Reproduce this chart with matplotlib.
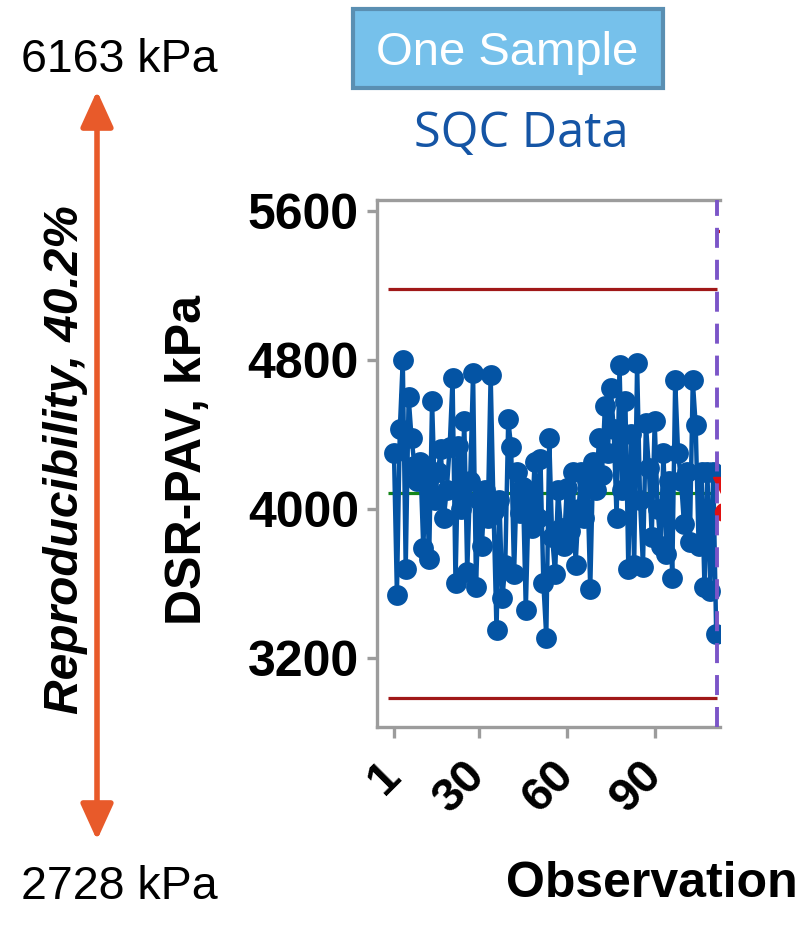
import matplotlib
matplotlib.use("Agg")
import matplotlib.pyplot as plt
from matplotlib.patches import FancyArrowPatch, Rectangle

# ---- data ----
observations = list(range(1, 112))
dsr_values = [
    4300, 3540, 4430, 4800, 3680, 4600, 4380, 4230, 4150, 4250,
    3790, 4200, 3730, 4580, 4050, 4200, 4320, 3950, 4100, 4330,
    4700, 3600, 4340, 4000, 4470, 3660, 4150, 4730, 3580, 4050,
    3800, 4100, 3950, 4720, 3990, 3350, 4050, 3520, 3700, 4480,
    4330, 3650, 4200, 3980, 4120, 3460, 4050, 3900, 4250, 3950,
    4270, 3600, 3310, 4380, 3850, 3650, 4100, 3900, 3800, 4110,
    3880, 4200, 3700, 4000, 4200, 3950, 4150, 3570, 4250, 4100,
    4380, 4180, 4550, 4300, 4650, 4430, 3950, 4770, 4100, 4580,
    3680, 4400, 3700, 4780, 4050, 3690, 4460, 4220, 3850, 4470,
    4000, 3800, 4300, 3760, 4150, 3630, 4690, 4300, 4150, 3920,
    4200, 3820, 4690, 4450, 3800, 4200, 3580, 4200, 3560, 4200,
    3330,
]
center_line = 4084
ucl = 5180
lcl = 2984
next_ucl = 5491
phase_break = 111.3
next_phase_obs = [113.8, 113.8]
next_phase_vals = [4110, 3985]

y_ticks = [3200, 4000, 4800, 5600]
x_ticks = [1, 30, 60, 90]

W, H = 808, 933
fig = plt.figure(figsize=(W / 100, H / 100), dpi=100)

def fx(px):
    return px / W

def fy(py):
    return 1 - py / H

ax = fig.add_axes([fx(377), fy(727), fx(720) - fx(377), fy(200) - fy(727)])
ax.set_xlim(-4.8, 112.3)
ax.set_ylim(2830, 5657)

blue = "#0454A4"
ax.hlines([ucl, lcl], -1, phase_break, colors="#A01818", lw=2.3, zorder=2)
ax.hlines([center_line], -1, phase_break, colors="#15861A", lw=2.3, zorder=2)
ax.hlines([next_ucl], phase_break, 130, colors="#C01818", lw=2.3, zorder=2)
ax.plot(observations, dsr_values, color=blue, lw=3.2, marker="o",
        markersize=15, markeredgewidth=0, zorder=3)
ax.plot(next_phase_obs[:1], next_phase_vals[:1], marker="v", color="#E01010",
        markersize=16, ls="none", zorder=4)
ax.plot(next_phase_obs[1:], next_phase_vals[1:], marker="o", color="#E01010",
        markersize=13, ls="none", zorder=4)
lw_p = 2.8
ax.axvline(phase_break, color="#7B55C8", lw=lw_p, ls=(0, (14.4 / lw_p, 8.6 / lw_p)),
           zorder=5, clip_on=False)

for s in ["left", "top", "bottom"]:
    ax.spines[s].set_color("#9C9C9C")
    ax.spines[s].set_linewidth(2.4)
ax.spines["right"].set_visible(False)

ax.set_yticks(y_ticks)
ax.set_yticklabels([str(v) for v in y_ticks], fontsize=36, fontweight="bold",
                   family="Liberation Sans")
ax.set_xticks(x_ticks)
ax.set_xticklabels([str(v) for v in x_ticks], fontsize=34, fontweight="bold",
                   family="Liberation Sans", rotation=45, ha="right",
                   va="center", rotation_mode="anchor")
ax.tick_params(axis="y", length=7, width=2.4, color="#9C9C9C", pad=6)
ax.tick_params(axis="x", length=8, width=2.4, color="#9C9C9C", pad=22)

fig.text(fx(188), fy(460), "DSR-PAV, kPa", rotation=90, ha="center", va="center",
         fontsize=36, fontweight="bold", family="Liberation Sans")
fig.text(fx(652), fy(884), "Observation", ha="center", va="center",
         fontsize=36, fontweight="bold", family="Liberation Sans")

fig.text(fx(521), fy(134), "SQC Data", ha="center", va="center",
         fontsize=35, color="#1555A5", family="Open Sans")

box = Rectangle((fx(353), fy(88)), fx(663) - fx(353), fy(9) - fy(88),
                transform=fig.transFigure, facecolor="#76C1EB",
                edgecolor="#5A8FB2", lw=3)
fig.add_artist(box)
fig.text(fx(507), fy(65), "One Sample", ha="center", va="baseline",
         fontsize=34, color="white", family="Liberation Sans")

fig.text(fx(119), fy(72), "6163 kPa", ha="center", va="baseline",
         fontsize=33.5, family="Liberation Sans")
fig.text(fx(119), fy(899), "2728 kPa", ha="center", va="baseline",
         fontsize=33.5, family="Liberation Sans")

arrow = FancyArrowPatch((fx(97), fy(843)), (fx(97), fy(88)),
                        transform=fig.transFigure,
                        arrowstyle="<|-|>,head_length=1.1,head_width=0.5",
                        mutation_scale=20, color="#E85A2A", lw=4)
fig.add_artist(arrow)

fig.text(fx(66), fy(460), "Reproducibility, 40.2%", rotation=90,
         ha="center", va="center", fontsize=34.5, fontweight="bold",
         fontstyle="italic", family="Liberation Sans")

fig.savefig("out.png", dpi=100)
